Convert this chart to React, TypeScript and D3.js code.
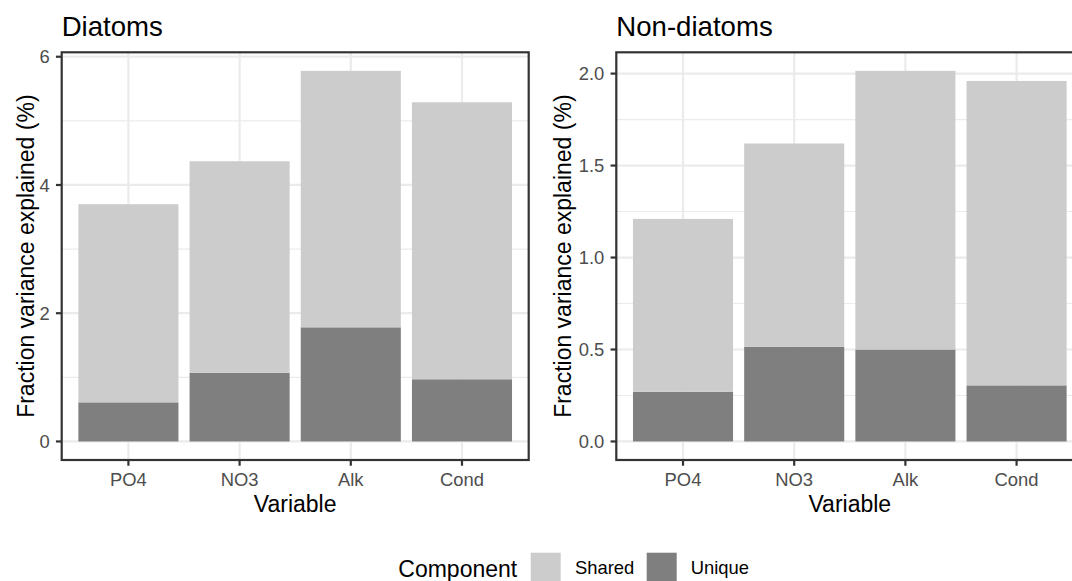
import React from "react";
import * as d3 from "d3";

// Variance partitioning results (percent of variance explained)
const variables = ["PO4", "NO3", "Alk", "Cond"];

const diatomsUnique = [0.61, 1.07, 1.78, 0.97];
const diatomsShared = [3.09, 3.30, 4.00, 4.32];

const nonDiatomsUnique = [0.27, 0.515, 0.5, 0.305];
const nonDiatomsShared = [0.94, 1.105, 1.515, 1.655];

const diatomsTicks = [0, 2, 4, 6];
const diatomsMinor = [1, 3, 5];
const nonDiatomsTicks = [0, 0.5, 1, 1.5, 2];
const nonDiatomsMinor = [0.25, 0.75, 1.25, 1.75];

const components = ["Shared", "Unique"];
const componentColors: Record<string, string> = { Shared: "#CCCCCC", Unique: "#7F7F7F" };

const W = 1072;
const H = 581;
const FONT = "'Liberation Sans', Arial, Helvetica, sans-serif";
const LINE = 2.2;

type PanelProps = {
  title: string;
  left: number;
  unique: number[];
  shared: number[];
  ticks: number[];
  minor: number[];
  fmt: (v: number) => string;
  yTitleX: number;
};

const TOP = 52.3;
const BOTTOM = 460;
const PANEL_W = 467;

function Panel({ title, left, unique, shared, ticks, minor, fmt, yTitleX }: PanelProps) {
  const rows = variables.map((v, i) => ({ variable: v, Unique: unique[i], Shared: shared[i] }));
  const series = d3.stack<any>().keys(["Unique", "Shared"])(rows);
  const maxTotal = d3.max(rows, (r) => r.Unique + r.Shared) as number;

  const x = d3
    .scaleBand<string>()
    .domain(variables)
    .range([left, left + PANEL_W])
    .paddingInner(0.1)
    .paddingOuter(0.15);
  const y = d3
    .scaleLinear()
    .domain([-0.05 * maxTotal, 1.05 * maxTotal])
    .range([BOTTOM, TOP]);

  const right = left + PANEL_W;
  const midY = (TOP + BOTTOM) / 2;

  return (
    <g>
      <rect x={left} y={TOP} width={PANEL_W} height={BOTTOM - TOP} fill="#FFFFFF" />
      {minor.map((t) => (
        <line key={"mn" + t} x1={left} x2={right} y1={y(t)} y2={y(t)} stroke="#EBEBEB" strokeWidth={LINE / 2} />
      ))}
      {ticks.map((t) => (
        <line key={"mj" + t} x1={left} x2={right} y1={y(t)} y2={y(t)} stroke="#EBEBEB" strokeWidth={LINE} />
      ))}
      {variables.map((v) => {
        const cx = (x(v) as number) + x.bandwidth() / 2;
        return <line key={"vx" + v} x1={cx} x2={cx} y1={TOP} y2={BOTTOM} stroke="#EBEBEB" strokeWidth={LINE} />;
      })}
      {series.map((s) => (
        <g key={s.key} fill={componentColors[s.key]}>
          {s.map((d: any) => (
            <rect
              key={d.data.variable}
              x={x(d.data.variable)}
              width={x.bandwidth()}
              y={y(d[1])}
              height={y(d[0]) - y(d[1])}
            />
          ))}
        </g>
      ))}
      <rect x={left} y={TOP} width={PANEL_W} height={BOTTOM - TOP} fill="none" stroke="#333333" strokeWidth={LINE} />
      {ticks.map((t) => (
        <g key={"yt" + t}>
          <line x1={left - 5.75} x2={left} y1={y(t)} y2={y(t)} stroke="#333333" strokeWidth={LINE} />
          <text x={left - 12} y={y(t)} dy="0.36em" textAnchor="end" fontSize={18.4} fill="#4D4D4D" fontFamily={FONT}>
            {fmt(t)}
          </text>
        </g>
      ))}
      {variables.map((v) => {
        const cx = (x(v) as number) + x.bandwidth() / 2;
        return (
          <g key={"xt" + v}>
            <line x1={cx} x2={cx} y1={BOTTOM} y2={BOTTOM + 5.75} stroke="#333333" strokeWidth={LINE} />
            <text x={cx} y={485.7} textAnchor="middle" fontSize={18.4} fill="#4D4D4D" fontFamily={FONT}>
              {v}
            </text>
          </g>
        );
      })}
      <text x={left + PANEL_W / 2} y={512} textAnchor="middle" fontSize={23} fill="#000000" fontFamily={FONT}>
        Variable
      </text>
      <text
        transform={`translate(${yTitleX},${midY}) rotate(-90)`}
        textAnchor="middle"
        fontSize={23}
        fill="#000000"
        fontFamily={FONT}
      >
        Fraction variance explained (%)
      </text>
      <text x={left} y={36} fontSize={27.6} fill="#000000" fontFamily={FONT}>
        {title}
      </text>
    </g>
  );
}

export default function App() {
  return (
    <svg
      width={W}
      height={H}
      viewBox={`0 0 ${W} ${H}`}
      style={{ position: "absolute", left: 0, top: 0, display: "block", background: "#FFFFFF" }}
    >
      <rect x={0} y={0} width={W} height={H} fill="#FFFFFF" />
      <Panel
        title="Diatoms"
        left={61.7}
        unique={diatomsUnique}
        shared={diatomsShared}
        ticks={diatomsTicks}
        minor={diatomsMinor}
        fmt={d3.format("d")}
        yTitleX={33.5}
      />
      <Panel
        title="Non-diatoms"
        left={616.3}
        unique={nonDiatomsUnique}
        shared={nonDiatomsShared}
        ticks={nonDiatomsTicks}
        minor={nonDiatomsMinor}
        fmt={d3.format(".1f")}
        yTitleX={571}
      />
      <g fontFamily={FONT}>
        <text x={398.3} y={576.7} fontSize={23} fill="#000000">
          Component
        </text>
        {components.map((c, i) => {
          const kx = i === 0 ? 530.7 : 646.7;
          const lx = i === 0 ? 575 : 690.7;
          return (
            <g key={c}>
              <rect x={kx} y={552.7} width={30} height={30} fill={componentColors[c]} />
              <text x={lx} y={574.3} fontSize={18.4} fill="#000000">
                {c}
              </text>
            </g>
          );
        })}
      </g>
    </svg>
  );
}
